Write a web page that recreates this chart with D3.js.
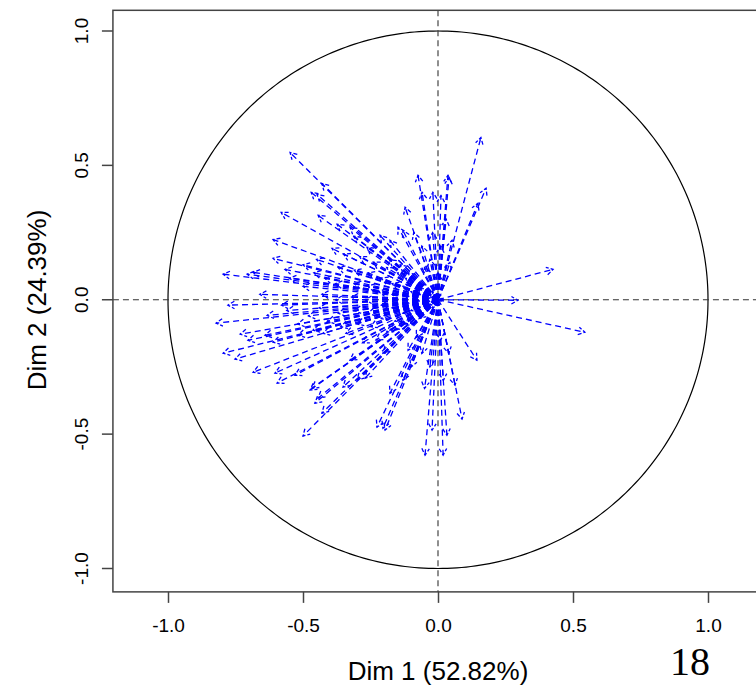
<!DOCTYPE html>
<html>
<head>
<meta charset="utf-8">
<script src="https://cdn.jsdelivr.net/npm/d3@7"></script>
<style>
  html, body { margin: 0; padding: 0; background: #fff; }
  svg { display: block; }
</style>
</head>
<body>
<script>
// ---- data (arrow tips: correlation coordinates on Dim 1 / Dim 2) ----
const upperLeft = [
  [-0.548,0.548],[-0.430,0.433],[-0.470,0.400],[-0.448,0.392],[-0.581,0.325],[-0.444,0.314],
  [-0.374,0.281],[-0.611,0.224],[-0.393,0.191],[-0.611,0.154],[-0.796,0.095],[-0.707,0.095],
  [-0.685,0.102],[-0.567,0.113],[-0.326,0.270],[-0.311,0.236],[-0.263,0.195],[-0.215,0.240],
  [-0.178,0.221],[-0.148,0.270],[-0.122,0.344],[-0.074,0.463],[-0.059,0.400],[-0.019,0.400],
  [0.037,0.463],[-0.130,0.258]
];
const lowerLeft = [
  [-0.778,-0.020],[-0.822,-0.087],[-0.733,-0.128],[-0.796,-0.199],[-0.752,-0.221],[-0.685,-0.270],
  [-0.604,-0.273],[-0.596,-0.310],[-0.633,-0.058],[-0.641,-0.132],[-0.611,-0.158],[-0.704,-0.151],
  [-0.474,-0.336],[-0.444,-0.366],[-0.500,-0.507],[-0.456,-0.385],[-0.430,-0.422],[-0.467,-0.329],
  [-0.352,-0.325],[-0.226,-0.474],[-0.196,-0.485],[-0.204,-0.478],[-0.530,-0.281],[-0.300,-0.299],
  [-0.270,-0.292],[-0.178,-0.348],[-0.326,-0.225],[-0.204,-0.199],[-0.178,-0.113],[-0.111,-0.188],
  [-0.115,-0.095],[-0.341,-0.125],[-0.519,-0.132],[-0.463,-0.113],[-0.426,-0.125],[-0.048,-0.578],
  [0.019,-0.578],[0.089,-0.444],[-0.022,-0.485],[0.033,-0.504]
];
const rightSide = [
  [0.426,0.113],[0.296,-0.002],[0.544,-0.121],[0.144,-0.225],[0.159,0.604],[0.178,0.415],
  [0.148,0.359],[0.041,0.455],[0.052,0.221],[0.044,0.139],[0.011,0.388],[0.063,-0.318]
];
const innerCluster = [
  [-0.03,0.02],[-0.04,0.0],[-0.03,-0.02],[-0.02,0.03],[-0.02,-0.03],[-0.05,0.01],[-0.05,-0.01],[0.02,0.0],[0.01,0.02],
  [-0.08,0.04],[-0.09,0.01],[-0.09,-0.02],[-0.08,-0.05],[-0.07,0.06],[-0.07,-0.07],[-0.10,0.03],[-0.10,-0.04],
  [-0.13,0.05],[-0.13,0.0],[-0.13,-0.05],[-0.12,0.08],[-0.12,-0.09],[-0.11,0.10],
  [-0.17,0.06],[-0.17,0.02],[-0.17,-0.03],[-0.16,-0.08],[-0.15,0.10],[-0.15,-0.11],[-0.14,0.13],
  [-0.21,0.08],[-0.22,0.03],[-0.21,-0.02],[-0.21,-0.07],[-0.19,0.12],[-0.19,-0.12],[-0.18,0.15],
  [-0.26,0.10],[-0.26,0.05],[-0.27,0.0],[-0.26,-0.05],[-0.25,-0.10],[-0.24,0.14],[-0.23,-0.15],
  [-0.31,0.11],[-0.31,0.06],[-0.32,0.01],[-0.31,-0.04],[-0.30,-0.09],[-0.29,0.16],[-0.28,-0.16],
  [-0.37,0.12],[-0.38,0.06],[-0.38,0.0],[-0.37,-0.05],[-0.36,-0.10],[-0.35,0.17],
  [-0.42,0.08],[-0.43,0.02],[-0.44,-0.03],[-0.41,-0.08],[-0.46,0.10],[-0.50,0.05],[-0.48,-0.06],
  [-0.52,-0.09],[-0.55,0.08],[-0.56,-0.04],[-0.50,0.13],[-0.45,0.15],[-0.66,0.02],[-0.58,-0.02]
];
const nearVertical = [
  [-0.08,-0.14],[-0.06,-0.20],[-0.10,-0.25],[-0.13,-0.30],[-0.03,-0.25],[-0.05,-0.33],[0.02,-0.30],[0.04,-0.20],[0.01,-0.15],
  [-0.03,0.15],[-0.02,0.25],[0.01,0.20],[0.03,0.30],[-0.06,0.20],[-0.09,0.25],[-0.05,0.12],[0.0,0.10]
];
const tickValues = [-1.0, -0.5, 0.0, 0.5, 1.0];
const tickLabels = ["-1.0", "-0.5", "0.0", "0.5", "1.0"];
const xTitle = "Dim 1 (52.82%)";
const yTitle = "Dim 2 (24.39%)";
const pageNumber = "18";
const xLim = [-1.204, 1.204];
const yLim = [-1.087, 1.077];

// ---- drawing ----
const W = 756, H = 687;
const svg = d3.select("body").append("svg").attr("width", W).attr("height", H);

const x = d3.scaleLinear().domain([-1, 1]).range([168, 708]);
const y = d3.scaleLinear().domain([-1, 1]).range([568.5, 31]);

const boxL = x(xLim[0]), boxR = x(xLim[1]), boxT = y(yLim[1]), boxB = y(yLim[0]);

// unit circle
const circ = d3.range(0, 361, 1).map(a => [Math.cos(a * Math.PI / 180), Math.sin(a * Math.PI / 180)]);
svg.append("path")
  .attr("d", d3.line().x(d => x(d[0])).y(d => y(d[1]))(circ))
  .attr("fill", "none").attr("stroke", "#000").attr("stroke-width", 1.2);

// dashed reference lines
svg.append("line").attr("x1", boxL).attr("x2", boxR).attr("y1", y(0)).attr("y2", y(0))
  .attr("stroke", "#333").attr("stroke-width", 1.1).attr("stroke-dasharray", "6,4");
svg.append("line").attr("x1", x(0)).attr("x2", x(0)).attr("y1", boxT).attr("y2", boxB)
  .attr("stroke", "#333").attr("stroke-width", 1.1).attr("stroke-dasharray", "6,4");

// arrows
const allTips = [].concat(upperLeft, lowerLeft, rightSide, innerCluster, nearVertical);
const headLen = 7.5, headAng = Math.PI / 6;
const g = svg.append("g").attr("fill", "none").attr("stroke", "#0000ff")
  .attr("stroke-width", 1.3).attr("stroke-dasharray", "6,4");
allTips.forEach(d => {
  const x0 = x(0), y0 = y(0), x1 = x(d[0]), y1 = y(d[1]);
  const ang = Math.atan2(y1 - y0, x1 - x0);
  g.append("line").attr("x1", x0).attr("y1", y0).attr("x2", x1).attr("y2", y1);
  const p = d3.path();
  p.moveTo(x1 - headLen * Math.cos(ang - headAng), y1 - headLen * Math.sin(ang - headAng));
  p.lineTo(x1, y1);
  p.lineTo(x1 - headLen * Math.cos(ang + headAng), y1 - headLen * Math.sin(ang + headAng));
  g.append("path").attr("d", p.toString()).attr("stroke-dasharray", "4,2");
});

// box
svg.append("rect").attr("x", boxL).attr("y", boxT).attr("width", boxR - boxL).attr("height", boxB - boxT)
  .attr("fill", "none").attr("stroke", "#444").attr("stroke-width", 1.5);

// axes
const xAxis = d3.axisBottom(x).tickValues(tickValues).tickFormat((d, i) => tickLabels[i]).tickSize(11).tickPadding(16);
const gx = svg.append("g").attr("transform", `translate(0,${boxB})`).call(xAxis);
gx.select(".domain").remove();
gx.selectAll("line").attr("stroke", "#444").attr("stroke-width", 1.5);
gx.selectAll("text").attr("font-family", "Liberation Sans, Arial, sans-serif").attr("font-size", 19).attr("fill", "#000");

const yAxis = d3.axisLeft(y).tickValues(tickValues).tickFormat((d, i) => tickLabels[i]).tickSize(11);
const gy = svg.append("g").attr("transform", `translate(${boxL},0)`).call(yAxis);
gy.select(".domain").remove();
gy.selectAll("line").attr("stroke", "#444").attr("stroke-width", 1.5);
gy.selectAll(".tick").attr("transform", null);
gy.selectAll(".tick line").attr("y1", d => y(d)).attr("y2", d => y(d));
gy.selectAll("text")
  .attr("font-family", "Liberation Sans, Arial, sans-serif").attr("font-size", 19).attr("fill", "#000")
  .attr("x", null).attr("y", null).attr("dy", null)
  .attr("text-anchor", "middle")
  .attr("transform", d => `translate(${88 - boxL},${y(d)}) rotate(-90)`);

// titles
svg.append("text").attr("x", 438).attr("y", 680).attr("text-anchor", "middle")
  .attr("font-family", "Liberation Sans, Arial, sans-serif").attr("font-size", 26).text(xTitle);
svg.append("text").attr("transform", "translate(46,300) rotate(-90)").attr("text-anchor", "middle")
  .attr("font-family", "Liberation Sans, Arial, sans-serif").attr("font-size", 26).text(yTitle);
svg.append("text").attr("x", 690).attr("y", 675).attr("text-anchor", "middle")
  .attr("font-family", "Liberation Serif, Times New Roman, serif").attr("font-size", 40).text(pageNumber);
</script>
</body>
</html>
